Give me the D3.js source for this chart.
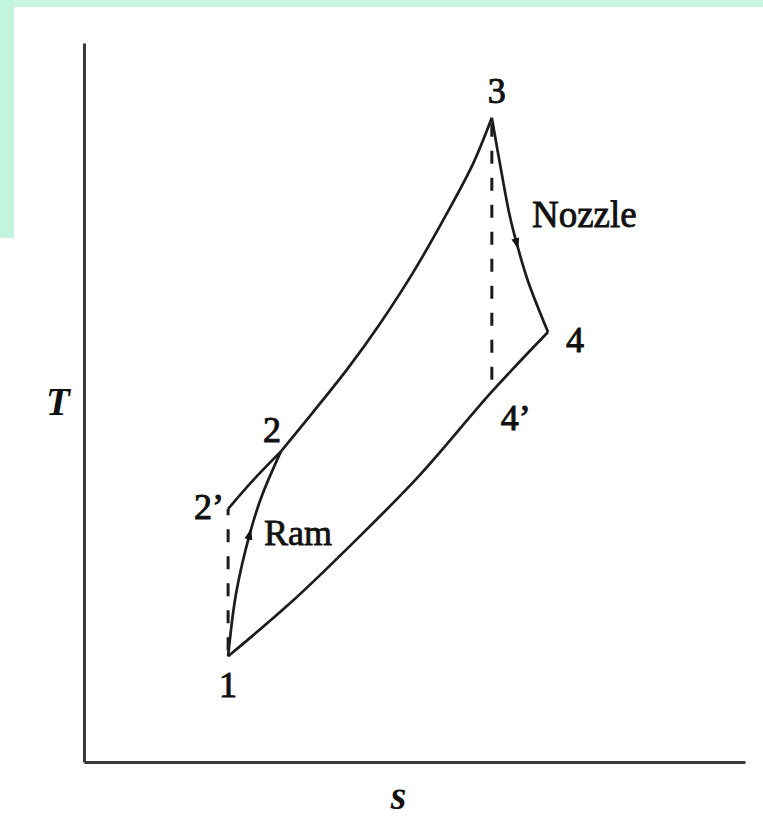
<!DOCTYPE html>
<html>
<head>
<meta charset="utf-8">
<script src="https://cdn.jsdelivr.net/npm/d3@7"></script>
<style>
  html, body { margin: 0; padding: 0; background: #ffffff; }
  #wrapper { width: 763px; height: 822px; position: relative; }
</style>
</head>
<body>
<div id="wrapper"></div>
<script>
// ramjet cycle on a T-s plane, values in arbitrary units (0-100)

// state points [s, T]
const stateNames = ["1", "2\u2019", "2", "3", "4", "4\u2019"]
const stateS = [21.8, 21.8, 29.8, 61.7, 70.2, 61.7]
const stateT = [14.7, 35.2, 43.2, 89.6, 59.8, 51.5]

// process curves
const ramS = [21.8, 23.0, 25.1, 26.9, 29.8]
const ramT = [14.7, 23.4, 31.8, 37.0, 43.2]

const burnS = [29.8, 34.6, 39.8, 44.8, 49.8, 54.9, 58.9, 61.7]
const burnT = [43.2, 48.6, 54.6, 61.0, 68.1, 76.3, 83.3, 89.6]

const nozzleS = [61.7, 63.2, 64.4, 65.5, 67.2, 70.2]
const nozzleT = [89.6, 81.8, 76.0, 72.0, 66.8, 59.8]

const rejectS = [21.8, 31.2, 40.4, 50.8, 61.7, 70.2]
const rejectT = [14.7, 22.1, 30.2, 39.9, 51.5, 59.8]

const isenRamS = [21.8, 25.6, 29.8]
const isenRamT = [35.2, 39.2, 43.2]

function drawChart() {

  const zip = (s, t) => s.map((d, i) => ({ s: d, T: t[i] }))

  const xAccessor = d => d.s
  const yAccessor = d => d.T

  //1. dimensions

  const dimensions = {
    width: 763,
    height: 822,
    margin: { top: 43, right: 18, bottom: 60, left: 84 }
  }
  dimensions.boundedWidth = dimensions.width
    - dimensions.margin.left - dimensions.margin.right
  dimensions.boundedHeight = dimensions.height
    - dimensions.margin.top - dimensions.margin.bottom

  //2. canvas

  const wrapper = d3.select("#wrapper")
    .append("svg")
    .attr("width", dimensions.width)
    .attr("height", dimensions.height)

  // mint slide background bits
  wrapper.append("rect")
    .attr("x", 0).attr("y", 0)
    .attr("width", dimensions.width).attr("height", 7)
    .attr("fill", "#c8f6e1")
  wrapper.append("rect")
    .attr("x", 0).attr("y", 0)
    .attr("width", 14).attr("height", 238)
    .attr("fill", "#c3f5de")

  const bounds = wrapper.append("g")
    .attr("transform", `translate(${dimensions.margin.left},${dimensions.margin.top})`)

  //3. scales

  const xScale = d3.scaleLinear()
    .domain([0, 100])
    .range([0, dimensions.boundedWidth])

  const yScale = d3.scaleLinear()
    .domain([0, 100])
    .range([dimensions.boundedHeight, 0])

  //4. axes (bare lines, no ticks)

  const xAxis = bounds.append("g")
    .attr("transform", `translate(0,${dimensions.boundedHeight})`)
    .call(d3.axisBottom(xScale).tickValues([]).tickSizeOuter(0))
  const yAxis = bounds.append("g")
    .call(d3.axisLeft(yScale).tickValues([]).tickSizeOuter(0))

  bounds.selectAll(".domain")
    .attr("stroke", "#3a3a3a")
    .attr("stroke-width", 3)

  const labelFont = "'Liberation Serif', 'DejaVu Serif', serif"

  bounds.append("text")
    .attr("x", -26)
    .attr("y", yScale(48.2))
    .attr("text-anchor", "middle")
    .style("font-family", labelFont)
    .style("font-size", "39px")
    .style("font-style", "italic")
    .style("font-weight", "bold")
    .attr("fill", "#111")
    .text("T")

  bounds.append("text")
    .attr("x", xScale(47.6))
    .attr("y", dimensions.boundedHeight + 47)
    .attr("text-anchor", "middle")
    .style("font-family", labelFont)
    .style("font-size", "40px")
    .style("font-style", "italic")
    .style("font-weight", "bold")
    .attr("fill", "#111")
    .text("s")

  //5. process lines

  const lineGenerator = d3.line()
    .x(d => xScale(xAccessor(d)))
    .y(d => yScale(yAccessor(d)))
    .curve(d3.curveCatmullRom.alpha(0.5))

  const solid = [
    zip(ramS, ramT),
    zip(burnS, burnT),
    zip(nozzleS, nozzleT),
    zip(rejectS, rejectT),
    zip(isenRamS, isenRamT)
  ]

  bounds.selectAll(".process")
    .data(solid)
    .join("path")
    .attr("class", "process")
    .attr("d", lineGenerator)
    .attr("fill", "none")
    .attr("stroke", "#1c1c1c")
    .attr("stroke-width", 2.7)
    .attr("stroke-linejoin", "miter")

  // isentropic verticals 1-2' and 3-4'
  const states = zip(stateS, stateT)
  const dashed = [[states[0], states[1]], [states[3], states[5]]]

  bounds.selectAll(".isentrope")
    .data(dashed)
    .join("path")
    .attr("class", "isentrope")
    .attr("d", d3.line().x(d => xScale(xAccessor(d))).y(d => yScale(yAccessor(d))))
    .attr("fill", "none")
    .attr("stroke", "#1c1c1c")
    .attr("stroke-width", 3)
    .attr("stroke-dasharray", "13 14")
    .attr("stroke-dashoffset", -6)

  //6. direction arrows, placed on a curve point and pointed along it

  const arrows = [
    { pts: zip(ramS, ramT), at: 2 },
    { pts: zip(nozzleS, nozzleT), at: 3 }
  ]

  bounds.selectAll(".arrow")
    .data(arrows)
    .join("path")
    .attr("class", "arrow")
    .attr("d", "M5,0 L-6,-4 L-6,4 Z")
    .attr("fill", "#111")
    .attr("transform", d => {
      const p = d.pts[d.at], a = d.pts[d.at - 1], b = d.pts[d.at + 1]
      const ang = Math.atan2(yScale(b.T) - yScale(a.T), xScale(b.s) - xScale(a.s)) * 180 / Math.PI
      return `translate(${xScale(p.s)},${yScale(p.T)}) rotate(${ang})`
    })

  //7. state labels

  const labelOffsets = [
    { dx: 0, dy: 41, anchor: "middle" },
    { dx: -4, dy: 10, anchor: "end" },
    { dx: -9, dy: -9, anchor: "middle" },
    { dx: 5, dy: -15, anchor: "middle" },
    { dx: 27, dy: 20, anchor: "middle" },
    { dx: 9, dy: 38, anchor: "start" }
  ]

  bounds.selectAll(".state")
    .data(states)
    .join("text")
    .attr("class", "state")
    .attr("x", (d, i) => xScale(d.s) + labelOffsets[i].dx)
    .attr("y", (d, i) => yScale(d.T) + labelOffsets[i].dy)
    .attr("text-anchor", (d, i) => labelOffsets[i].anchor)
    .style("font-family", labelFont)
    .style("font-size", "36px")
    .attr("fill", "#111")
    .attr("stroke", "#111")
    .attr("stroke-width", 1)
    .text((d, i) => stateNames[i])

  // process names
  bounds.append("text")
    .attr("x", xScale(ramS[2]) + 14)
    .attr("y", yScale(ramT[2]) + 12)
    .style("font-family", labelFont)
    .style("font-size", "36px")
    .attr("fill", "#111")
    .attr("stroke", "#111")
    .attr("stroke-width", 0.8)
    .text("Ram")

  bounds.append("text")
    .attr("x", xScale(nozzleS[3]) + 15)
    .attr("y", yScale(nozzleT[3]) - 17)
    .style("font-family", labelFont)
    .style("font-size", "37px")
    .attr("fill", "#111")
    .attr("stroke", "#111")
    .attr("stroke-width", 0.8)
    .text("Nozzle")
}
drawChart()
</script>
</body>
</html>
